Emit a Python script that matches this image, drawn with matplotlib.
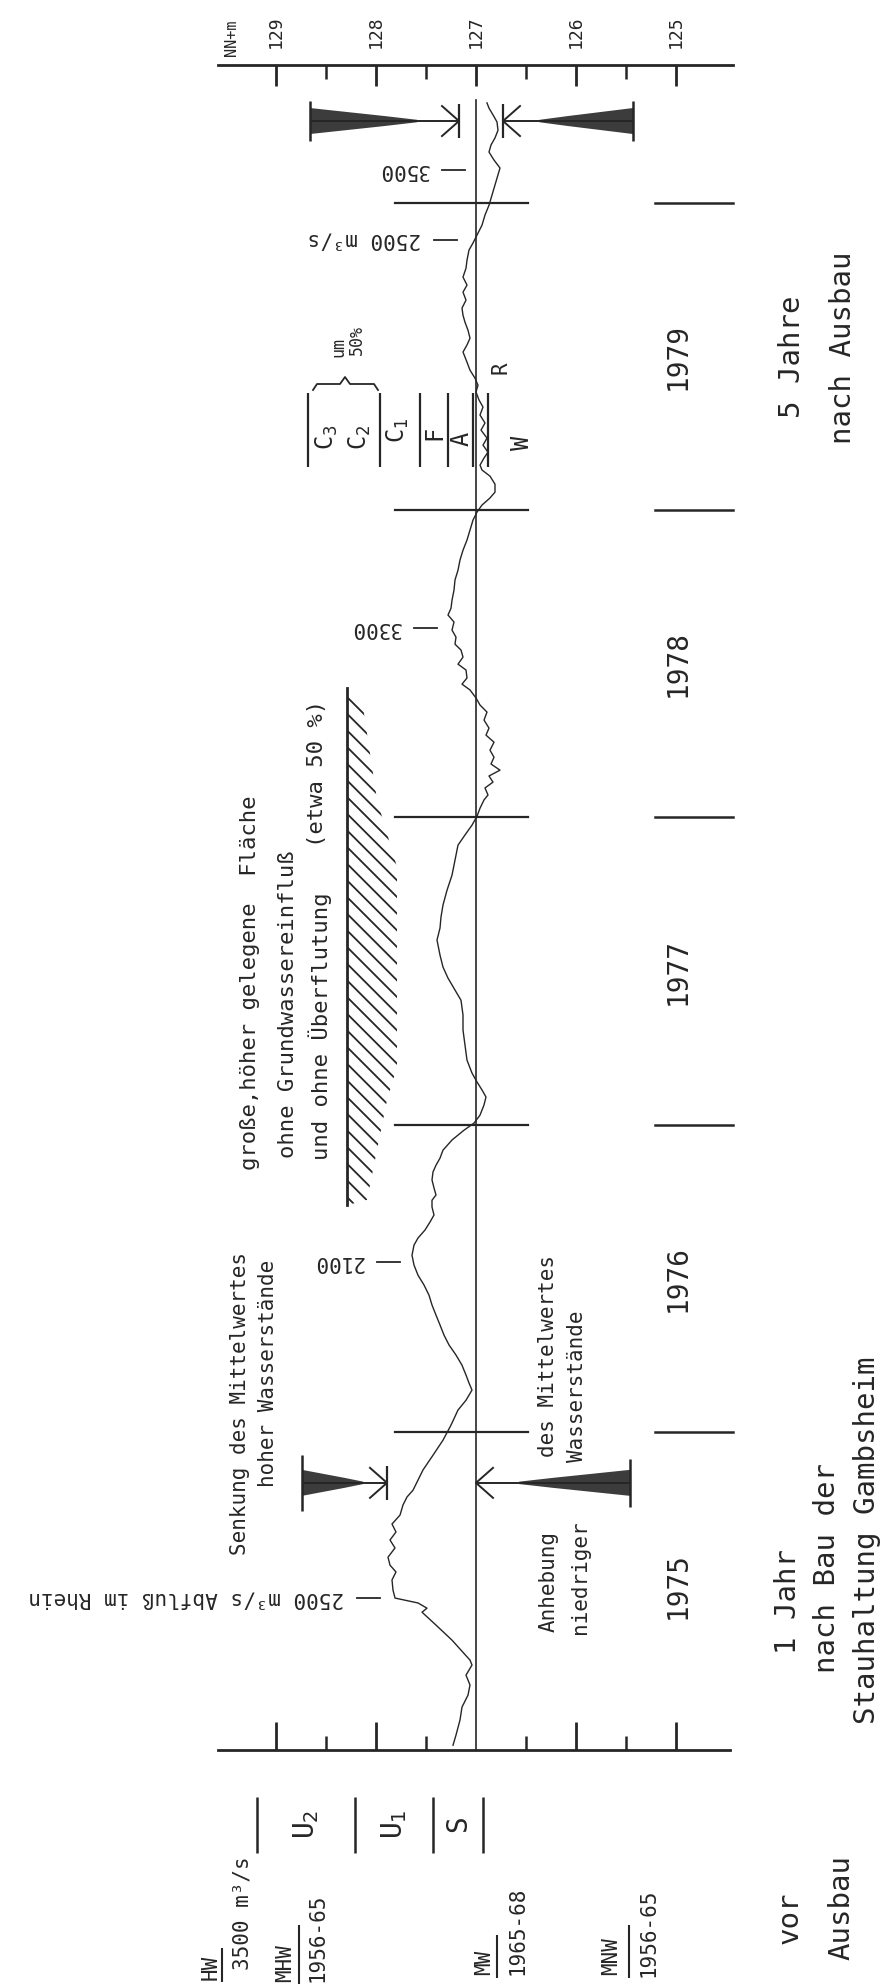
import numpy as np
import matplotlib
matplotlib.use("Agg")
import matplotlib.pyplot as plt
from matplotlib.patches import Polygon

plt.rcParams["font.family"] = ["DejaVu Sans Mono", "DejaVu Sans"]
plt.rcParams["mathtext.fontset"] = "dejavusans"
plt.rcParams["hatch.linewidth"] = 1.3

INK = "#262626"
FILL = "#3c3c3c"

# ---------------------------------------------------------------- data
# water level of the Rhine (m above NN), time in years after 1 Jan 1975
t_offset = [
    -0.020, 0.013, 0.062, 0.104, 0.143, 0.176, 0.208, 0.241, 0.257, 0.322,
    0.371, 0.413, 0.426, 0.443, 0.459, 0.485, 0.518, 0.544, 0.566, 0.592,
    0.622, 0.648, 0.674, 0.700, 0.729, 0.762, 0.788, 0.810, 0.843, 0.876,
    0.924, 0.973, 1.022, 1.071, 1.103, 1.136, 1.159, 1.185, 1.217, 1.250,
    1.283, 1.315, 1.348, 1.380, 1.413, 1.445, 1.478, 1.510, 1.543, 1.575,
    1.608, 1.631, 1.657, 1.683, 1.706, 1.732, 1.754, 1.771, 1.794, 1.820,
    1.846, 1.868, 1.891, 1.917, 1.950, 1.982, 2.005, 2.031, 2.064, 2.090,
    2.113, 2.139, 2.168, 2.210, 2.259, 2.308, 2.357, 2.405, 2.438, 2.477,
    2.513, 2.552, 2.601, 2.640, 2.676, 2.715, 2.763, 2.812, 2.861, 2.910,
    2.943, 2.975, 3.004, 3.030, 3.057, 3.073, 3.096, 3.115, 3.135, 3.154,
    3.174, 3.196, 3.219, 3.245, 3.268, 3.291, 3.317, 3.343, 3.366, 3.389,
    3.415, 3.434, 3.454, 3.480, 3.499, 3.522, 3.545, 3.564, 3.587, 3.610,
    3.636, 3.659, 3.681, 3.707, 3.740, 3.773, 3.805, 3.838, 3.870, 3.903,
    3.935, 3.968, 3.994, 4.017, 4.040, 4.059, 4.085, 4.111, 4.131, 4.147,
    4.170, 4.189, 4.212, 4.235, 4.261, 4.284, 4.310, 4.336, 4.359, 4.385,
    4.407, 4.430, 4.456, 4.482, 4.515, 4.538, 4.560, 4.586, 4.612, 4.635,
    4.658, 4.684, 4.710, 4.733, 4.759, 4.788, 4.814, 4.847, 4.870, 4.896,
    4.928, 4.961, 4.993, 5.026, 5.058, 5.091, 5.114, 5.140, 5.166, 5.189,
    5.212, 5.237, 5.264, 5.287, 5.309, 5.326,
]
level = [
    127.23, 127.20, 127.16, 127.14, 127.08, 127.06, 127.10, 127.04, 127.06, 127.24,
    127.40, 127.54, 127.49, 127.58, 127.81, 127.83, 127.84, 127.80, 127.86, 127.88,
    127.81, 127.86, 127.80, 127.84, 127.76, 127.73, 127.69, 127.63, 127.58, 127.53,
    127.43, 127.33, 127.25, 127.18, 127.10, 127.04, 127.07, 127.10, 127.14, 127.20,
    127.27, 127.32, 127.36, 127.40, 127.44, 127.47, 127.52, 127.58, 127.62, 127.64,
    127.62, 127.58, 127.51, 127.46, 127.42, 127.44, 127.44, 127.40, 127.42, 127.44,
    127.43, 127.40, 127.36, 127.33, 127.24, 127.12, 127.02, 126.96, 126.92, 126.90,
    126.94, 126.99, 127.04, 127.09, 127.11, 127.13, 127.13, 127.15, 127.21, 127.28,
    127.33, 127.36, 127.39, 127.36, 127.35, 127.33, 127.29, 127.24, 127.21, 127.18,
    127.11, 127.04, 126.99, 126.96, 126.92, 126.88, 126.91, 126.83, 126.87, 126.76,
    126.85, 126.82, 126.86, 126.82, 126.90, 126.87, 126.92, 126.89, 126.96, 127.00,
    127.06, 127.14, 127.09, 127.10, 127.18, 127.13, 127.15, 127.21, 127.20, 127.24,
    127.22, 127.28, 127.25, 127.24, 127.22, 127.21, 127.18, 127.16, 127.13, 127.09,
    127.06, 127.03, 126.99, 126.94, 126.86, 126.81, 126.81, 126.86, 126.94, 126.96,
    126.92, 126.88, 126.93, 126.89, 126.95, 126.91, 126.96, 126.93, 126.97, 127.00,
    126.98, 127.01, 127.06, 127.09, 127.13, 127.09, 127.06, 127.08, 127.11, 127.13,
    127.14, 127.10, 127.13, 127.09, 127.13, 127.10, 127.09, 127.07, 127.03, 126.99,
    126.94, 126.91, 126.87, 126.84, 126.81, 126.78, 126.76, 126.82, 126.87, 126.85,
    126.81, 126.78, 126.79, 126.83, 126.87, 126.89,
]
years = [1975 + v for v in t_offset]

year_labels = ["1975", "1976", "1977", "1978", "1979"]
year_starts = [1975, 1976, 1977, 1978, 1979]
year_bounds = [1976, 1977, 1978, 1979, 1980]

scale_major = [125, 126, 127, 128, 129]
scale_minor = [125.5, 126.5, 127.5, 128.5]
mw_level = 127.0

discharge_labels = ["2500 m³/s Abfluß im Rhein", "2100", "3300", "2500 m³/s", "3500"]
discharge_time = [1975.459, 1976.553, 1978.617, 1979.880, 1980.107]
discharge_level = [127.96, 127.76, 127.39, 127.19, 127.11]

# mean of high / low water levels: shift after the barrage was built
arrow_time = [1975.834, 1980.267]
senkung_from = [128.74, 128.66]
senkung_to = [127.89, 127.17]
anhebung_from = [125.46, 125.43]
anhebung_to = [127.00, 126.73]

# zone boundaries (levels) before and after the works
zones_before = [129.19, 128.21, 127.43, 126.93]
zones_before_names = ["U$_2$", "U$_1$", "S"]
zones_after = [128.68, 127.96, 127.56, 127.28, 127.03, 126.88]

# higher area without groundwater influence
area_level = [128.29, 128.14, 127.99, 127.79, 127.79, 127.89, 128.09, 128.29]
area_time = [1978.421, 1978.382, 1978.057, 1977.839, 1977.188, 1977.080, 1976.755, 1976.738]

# ---------------------------------------------------------------- layout
W, H = 883, 1988
X0, XPP = 131.76, 0.01          # level at left edge, metres per pixel
Y0, YPP = 1980.661, 1 / 307.2   # year at top edge, years per pixel


def lv(px):
    return X0 - XPP * np.asarray(px, dtype=float)


def yr(py):
    return Y0 - YPP * np.asarray(py, dtype=float)


def px_x(l):
    return (X0 - np.asarray(l, dtype=float)) / XPP


def px_y(t):
    return (Y0 - np.asarray(t, dtype=float)) / YPP


fig = plt.figure(figsize=(W / 100, H / 100), dpi=100)
fig.patch.set_facecolor("white")
ax = fig.add_axes([0, 0, 1, 1])
ax.set_xlim(lv(0), lv(W))
ax.set_ylim(yr(H), yr(0))
ax.axis("off")


def seg(x0, y0, x1, y1, lw=1.5, color=INK):
    ax.plot([lv(x0), lv(x1)], [yr(y0), yr(y1)], color=color, lw=lw,
            solid_capstyle="butt")


def txt(xp, yp, s, size, rot=90, ha="center", va="center"):
    ax.text(float(lv(xp)), float(yr(yp)), s, fontsize=size, rotation=rot,
            ha=ha, va=va, color=INK)


# level scales (bottom = start, top = end of period)
y_bot, y_top = 1750, 65
ax.plot([lv(218), lv(730)], [yr(y_bot)] * 2, color=INK, lw=2.0)
ax.plot([lv(218), lv(733)], [yr(y_top)] * 2, color=INK, lw=2.0)
for l in scale_major:
    x = px_x(l)
    if l != mw_level:
        seg(x, y_bot, x, y_bot - 28, lw=2.0)
    seg(x, y_top, x, y_top + 21, lw=2.0)
    txt(x, 32, str(l), 13)
for l in scale_minor:
    x = px_x(l)
    seg(x, y_bot, x, y_bot - 14, lw=1.8)
    seg(x, y_top, x, y_top + 14, lw=1.8)
txt(232, 38, "NN+m", 11)

# mean water level line
ax.plot([mw_level, mw_level], [yr(y_bot), yr(100)], color=INK, lw=1.2)

# year boundaries and labels
for b in year_bounds:
    ax.plot([lv(395), lv(528)], [b, b], color=INK, lw=1.6)
    ax.plot([lv(655), lv(733)], [b, b], color=INK, lw=1.8)
for s, y0 in zip(year_labels, year_starts):
    ax.text(float(lv(678)), y0 + 0.5, s, fontsize=20, rotation=90,
            ha="center", va="center", color=INK)

# water level curve
ax.plot(level, years, color=INK, lw=1.0)

# discharge marks
for s, t, l in zip(discharge_labels, discharge_time, discharge_level):
    ax.plot([l, l + 0.23], [t, t], color=INK, lw=1.3)
    ax.text(l + 0.36, t, s, fontsize=15, rotation=180, ha="right",
            va="center", color=INK)


# tapered arrows
def arrow(t, l0, l1, half_bar, tip_bar=True):
    xb, xt = float(px_x(l0)), float(px_x(l1))
    yc = float(px_y(t))
    d = 1 if xt > xb else -1
    L = abs(xt - xb)
    xs = [xb, xb + d * 0.25 * L, xb + d * 0.5 * L, xb + d * 0.72 * L,
          xb + d * 0.72 * L, xb + d * 0.5 * L, xb + d * 0.25 * L, xb]
    ys = [yc - 13, yc - 9, yc - 5, yc - 1.2, yc + 1.2, yc + 5, yc + 9, yc + 13]
    ax.fill(lv(xs), yr(ys), color=FILL, lw=0)
    seg(xb, yc, xt, yc, lw=1.4)
    seg(xb, yc - half_bar, xb, yc + half_bar, lw=1.8)
    ax.plot(lv([xt - d * 17, xt, xt - d * 17]), yr([yc - 15, yc, yc + 15]),
            color=INK, lw=1.4)
    if tip_bar:
        seg(xt, yc - 17, xt, yc + 17, lw=1.6)


arrow(arrow_time[0], senkung_from[0], senkung_to[0], 28)
arrow(arrow_time[0], anhebung_from[0], anhebung_to[0], 24, tip_bar=False)
arrow(arrow_time[1], senkung_from[1], senkung_to[1], 20)
arrow(arrow_time[1], anhebung_from[1], anhebung_to[1], 20)

# hatched higher area
ax.add_patch(Polygon(list(zip(area_level, area_time)), closed=True,
                     facecolor="none", edgecolor=INK, lw=0, hatch="\\\\"))
ax.plot([area_level[0], area_level[-1]], [area_time[0], area_time[-1]],
        color=INK, lw=2.0)

# zones before the works
for l in zones_before:
    x = px_x(l)
    seg(x, 1797, x, 1853, lw=1.8)
for i, name in enumerate(zones_before_names):
    xc = 0.5 * (px_x(zones_before[i]) + px_x(zones_before[i + 1]))
    txt(xc, 1824, name, 20)

# zones after the works
for l in zones_after:
    x = px_x(l)
    seg(x, 393, x, 467, lw=1.6)
txt(327, 437, "C$_3$", 17)
txt(360, 437, "C$_2$", 17)
txt(398, 430, "C$_1$", 17)
txt(434, 433, "F", 17)
txt(462, 439, "A", 17)
txt(522, 443, "W", 17)
txt(501, 368, "R", 15)
brace = [(313, 390), (317, 384), (340, 384), (345, 377), (350, 384),
         (374, 384), (378, 390)]
ax.plot(lv([p[0] for p in brace]), yr([p[1] for p in brace]), color=INK, lw=1.3)
txt(338, 347, "um", 12)
txt(357, 340, "50%", 12)

# annotation texts
txt(240, 1555, "Senkung des Mittelwertes", 15, va="bottom")
txt(268, 1487, "hoher Wasserstände", 15, va="bottom")
txt(250, 1170, "große,höher gelegene  Fläche", 16, va="bottom")
txt(288, 1158, "ohne Grundwassereinfluß", 16, va="bottom")
txt(320, 1160, "und ohne Überflutung", 16, va="bottom")
txt(317, 847, "(etwa 50 %)", 16, va="bottom")
txt(549, 1632, "Anhebung", 15, va="bottom")
txt(580, 1634, "niedriger", 15, va="bottom")
txt(548, 1457, "des Mittelwertes", 15, va="bottom")
txt(577, 1462, "Wasserstände", 15, va="bottom")

txt(788, 1602, "1 Jahr", 21)
txt(827, 1568, "nach Bau der", 21)
txt(867, 1540, "Stauhaltung Gambsheim", 21)
txt(792, 357, "5 Jahre", 21)
txt(843, 348, "nach Ausbau", 21)
txt(790, 1918, "vor", 21)
txt(841, 1908, "Ausbau", 21)

# reference levels before the works
txt(211, 1980, "HW", 15, va="bottom")
seg(222, 1982, 222, 1948, lw=1.5)
txt(243, 1970, "3500 m³/s", 15, va="bottom")
txt(285, 1982, "MHW", 15, va="bottom")
seg(299, 1984, 299, 1925, lw=1.5)
txt(318, 1982, "1956-65", 15, va="bottom")
txt(484, 1975, "MW", 15, va="bottom")
seg(497, 1978, 497, 1935, lw=1.5)
txt(518, 1975, "1965-68", 15, va="bottom")
txt(611, 1975, "MNW", 15, va="bottom")
seg(629, 1978, 629, 1925, lw=1.5)
txt(649, 1977, "1956-65", 15, va="bottom")

fig.savefig("out.png", dpi=100, facecolor="white")
